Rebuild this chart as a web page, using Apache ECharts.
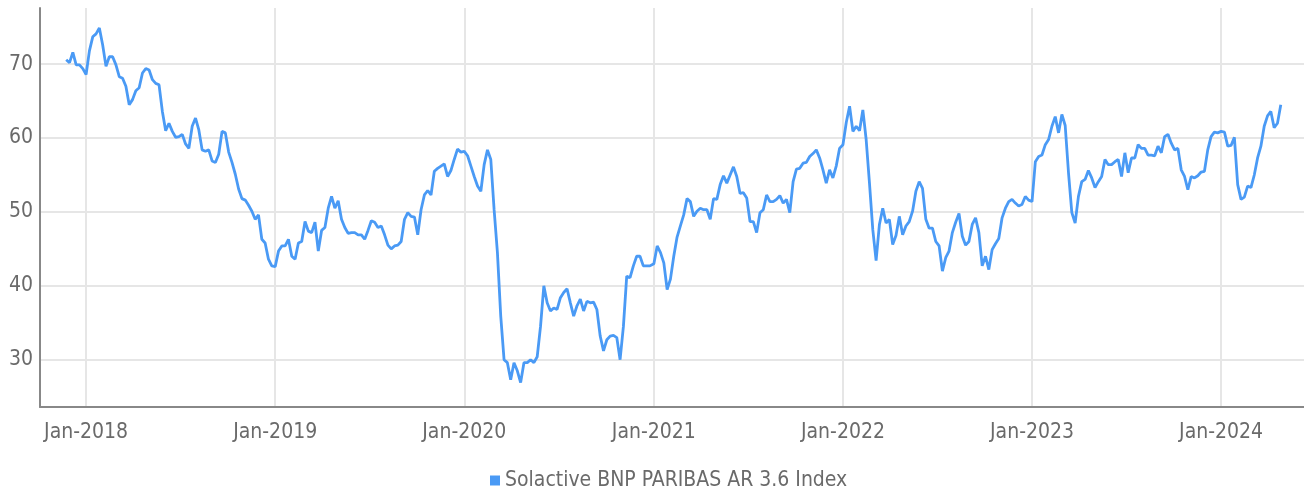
<!DOCTYPE html>
<html>
<head>
<meta charset="utf-8">
<script src="https://cdn.jsdelivr.net/npm/echarts@6/dist/echarts.min.js"></script>
<style>
  html, body { margin: 0; padding: 0; background: #ffffff; }
  #chart { width: 1304px; height: 490px; }
</style>
</head>
<body>
<div id="chart"></div>
<script>
// ---- data ----
const SERIES_NAME = 'Solactive BNP PARIBAS AR 3.6 Index';
const STEP_DAYS = 6.4;          // sampling step of the read values
const MONTHS = ['Jan','Feb','Mar','Apr','May','Jun','Jul','Aug','Sep','Oct','Nov','Dec'];

// values before 2018-01-01 (oldest first)
const tail2017 = [70.6, 70.2, 71.6, 69.9, 69.9, 69.4];
// each yearly array starts on Jan 1 of that year
const v2018 = [68.6, 71.8, 73.7, 74.1, 74.9, 72.6, 69.7, 71.0, 71.0, 69.9, 68.3, 68.1, 67.0, 64.5, 65.2, 66.4, 66.8, 68.8, 69.4, 69.2, 67.9, 67.4, 67.2, 63.6, 61.0, 62.0, 60.9, 60.1, 60.2, 60.5, 59.2, 58.6, 61.6, 62.7, 61.1, 58.4, 58.2, 58.4, 56.9, 56.7, 57.8, 60.9, 60.7, 58.1, 56.7, 55.1, 53.1, 51.8, 51.6, 50.9, 50.1, 49.0, 49.6, 46.3, 45.8, 43.6, 42.7];
const v2019 = [42.6, 44.7, 45.4, 45.4, 46.3, 44.0, 43.6, 45.8, 46.0, 48.7, 47.4, 47.2, 48.6, 44.7, 47.5, 47.9, 50.5, 52.1, 50.5, 51.5, 49.0, 47.9, 47.1, 47.2, 47.2, 46.9, 46.9, 46.3, 47.5, 48.8, 48.6, 47.9, 48.1, 46.9, 45.5, 45.0, 45.4, 45.5, 46.0, 49.0, 49.9, 49.4, 49.3, 46.9, 50.3, 52.3, 52.9, 52.3, 55.5, 55.9, 56.2, 56.5, 54.8, 55.6, 57.1, 58.5, 58.1];
const v2020 = [58.2, 57.6, 56.2, 54.8, 53.5, 52.8, 56.4, 58.4, 57.1, 50.3, 44.5, 35.9, 30.0, 29.6, 27.3, 29.6, 28.5, 26.9, 29.6, 29.6, 30.0, 29.6, 30.4, 34.5, 40.0, 37.7, 36.6, 37.0, 36.8, 38.4, 39.1, 39.6, 37.7, 35.9, 37.3, 38.2, 36.6, 37.9, 37.7, 37.8, 36.8, 33.2, 31.2, 32.7, 33.2, 33.3, 33.0, 30.0, 34.5, 41.3, 41.1, 42.7, 44.0, 44.0, 42.7, 42.7, 42.7];
const v2021 = [43.0, 45.4, 44.5, 43.1, 39.5, 40.9, 44.0, 46.6, 48.1, 49.6, 51.8, 51.4, 49.4, 50.1, 50.5, 50.3, 50.3, 49.0, 51.8, 51.7, 53.7, 54.9, 53.9, 55.0, 56.1, 54.8, 52.5, 52.6, 51.9, 48.7, 48.7, 47.2, 49.9, 50.3, 52.3, 51.4, 51.4, 51.7, 52.2, 51.2, 51.7, 49.9, 54.1, 55.8, 55.9, 56.6, 56.7, 57.5, 57.9, 58.4, 57.3, 55.7, 53.9, 55.7, 54.6, 56.2, 58.6];
const v2022 = [59.1, 62.1, 64.3, 60.9, 61.6, 61.0, 63.8, 59.8, 53.9, 47.6, 43.4, 48.3, 50.5, 48.5, 49.0, 45.6, 46.8, 49.4, 46.9, 48.1, 48.7, 50.1, 52.8, 54.1, 53.2, 49.0, 47.8, 47.8, 46.0, 45.4, 42.0, 43.8, 44.7, 47.2, 48.6, 49.8, 46.7, 45.5, 46.0, 48.3, 49.2, 47.2, 42.7, 44.0, 42.2, 44.9, 45.7, 46.4, 49.2, 50.5, 51.4, 51.7, 51.2, 50.8, 51.0, 52.1, 51.6];
const v2023 = [51.4, 56.8, 57.5, 57.7, 59.1, 59.8, 61.6, 62.9, 60.7, 63.2, 61.7, 55.3, 49.9, 48.5, 52.1, 54.1, 54.4, 55.6, 54.6, 53.3, 54.1, 54.8, 57.1, 56.4, 56.4, 56.8, 57.1, 54.8, 58.0, 55.3, 57.3, 57.3, 59.1, 58.6, 58.6, 57.7, 57.7, 57.6, 58.9, 58.0, 60.2, 60.5, 59.3, 58.4, 58.6, 55.7, 54.8, 53.0, 54.8, 54.6, 54.9, 55.4, 55.5, 58.4, 60.2, 60.8, 60.7];
const v2024 = [60.9, 60.8, 58.9, 59.0, 60.1, 53.7, 51.7, 52.0, 53.5, 53.3, 55.0, 57.3, 58.9, 61.6, 63.0, 63.6, 61.4, 62.0, 64.5];

// ---- build the series ----
const DAY = 86400000;
const points = [];
const jan2018 = Date.UTC(2018, 0, 1);
tail2017.forEach((v, i) => points.push([jan2018 - (tail2017.length - i) * STEP_DAYS * DAY, v]));
[[2018, v2018], [2019, v2019], [2020, v2020], [2021, v2021], [2022, v2022], [2023, v2023], [2024, v2024]]
  .forEach(([yr, arr]) => arr.forEach((v, i) => points.push([Date.UTC(yr, 0, 1) + i * STEP_DAYS * DAY, v])));

const FONT = "'Liberation Sans Narrow', 'DejaVu Sans Condensed', 'Roboto', sans-serif";
const FS = 21;
const TEXT = '#6a6a6a';
const LINE = '#4a9af5';

const chart = echarts.init(document.getElementById('chart'), null, { renderer: 'canvas' });
chart.setOption({
  animation: false,
  useUTC: true,
  backgroundColor: '#ffffff',
  grid: { left: 40, right: 0, top: 8, bottom: 83, containLabel: false },
  legend: {
    data: [SERIES_NAME],
    left: 485, top: 465,
    icon: 'rect', itemWidth: 10, itemHeight: 10,
    textStyle: { fontFamily: FONT, fontSize: FS, color: TEXT }
  },
  xAxis: {
    type: 'time',
    min: Date.UTC(2017, 9, 4),
    max: Date.UTC(2024, 5, 9),
    minInterval: 365 * DAY,
    maxInterval: 366 * DAY,
    axisLine: { show: true, lineStyle: { color: '#888888', width: 2 } },
    axisTick: { show: false },
    splitLine: { show: true, showMinLine: false, showMaxLine: false, lineStyle: { color: '#e6e6e6', width: 2 } },
    axisLabel: {
      fontFamily: FONT, fontSize: FS, color: TEXT, margin: 15,
      showMinLabel: false, showMaxLabel: false,
      formatter: (val) => { const d = new Date(val); return MONTHS[d.getUTCMonth()] + '-' + d.getUTCFullYear(); }
    }
  },
  yAxis: {
    type: 'value',
    min: 23.6, max: 77.6,
    axisLine: { show: true, lineStyle: { color: '#888888', width: 2 } },
    axisTick: { show: false },
    splitLine: { show: true, showMinLine: false, showMaxLine: false, lineStyle: { color: '#e6e6e6', width: 2 } },
    axisLabel: {
      fontFamily: FONT, fontSize: FS, color: TEXT, margin: 7,
      showMinLabel: false, showMaxLabel: false
    }
  },
  series: [{
    name: SERIES_NAME,
    type: 'line',
    data: points,
    showSymbol: false,
    symbol: 'none',
    lineStyle: { color: LINE, width: 2.8 },
    itemStyle: { color: LINE }
  }]
});
</script>
</body>
</html>
